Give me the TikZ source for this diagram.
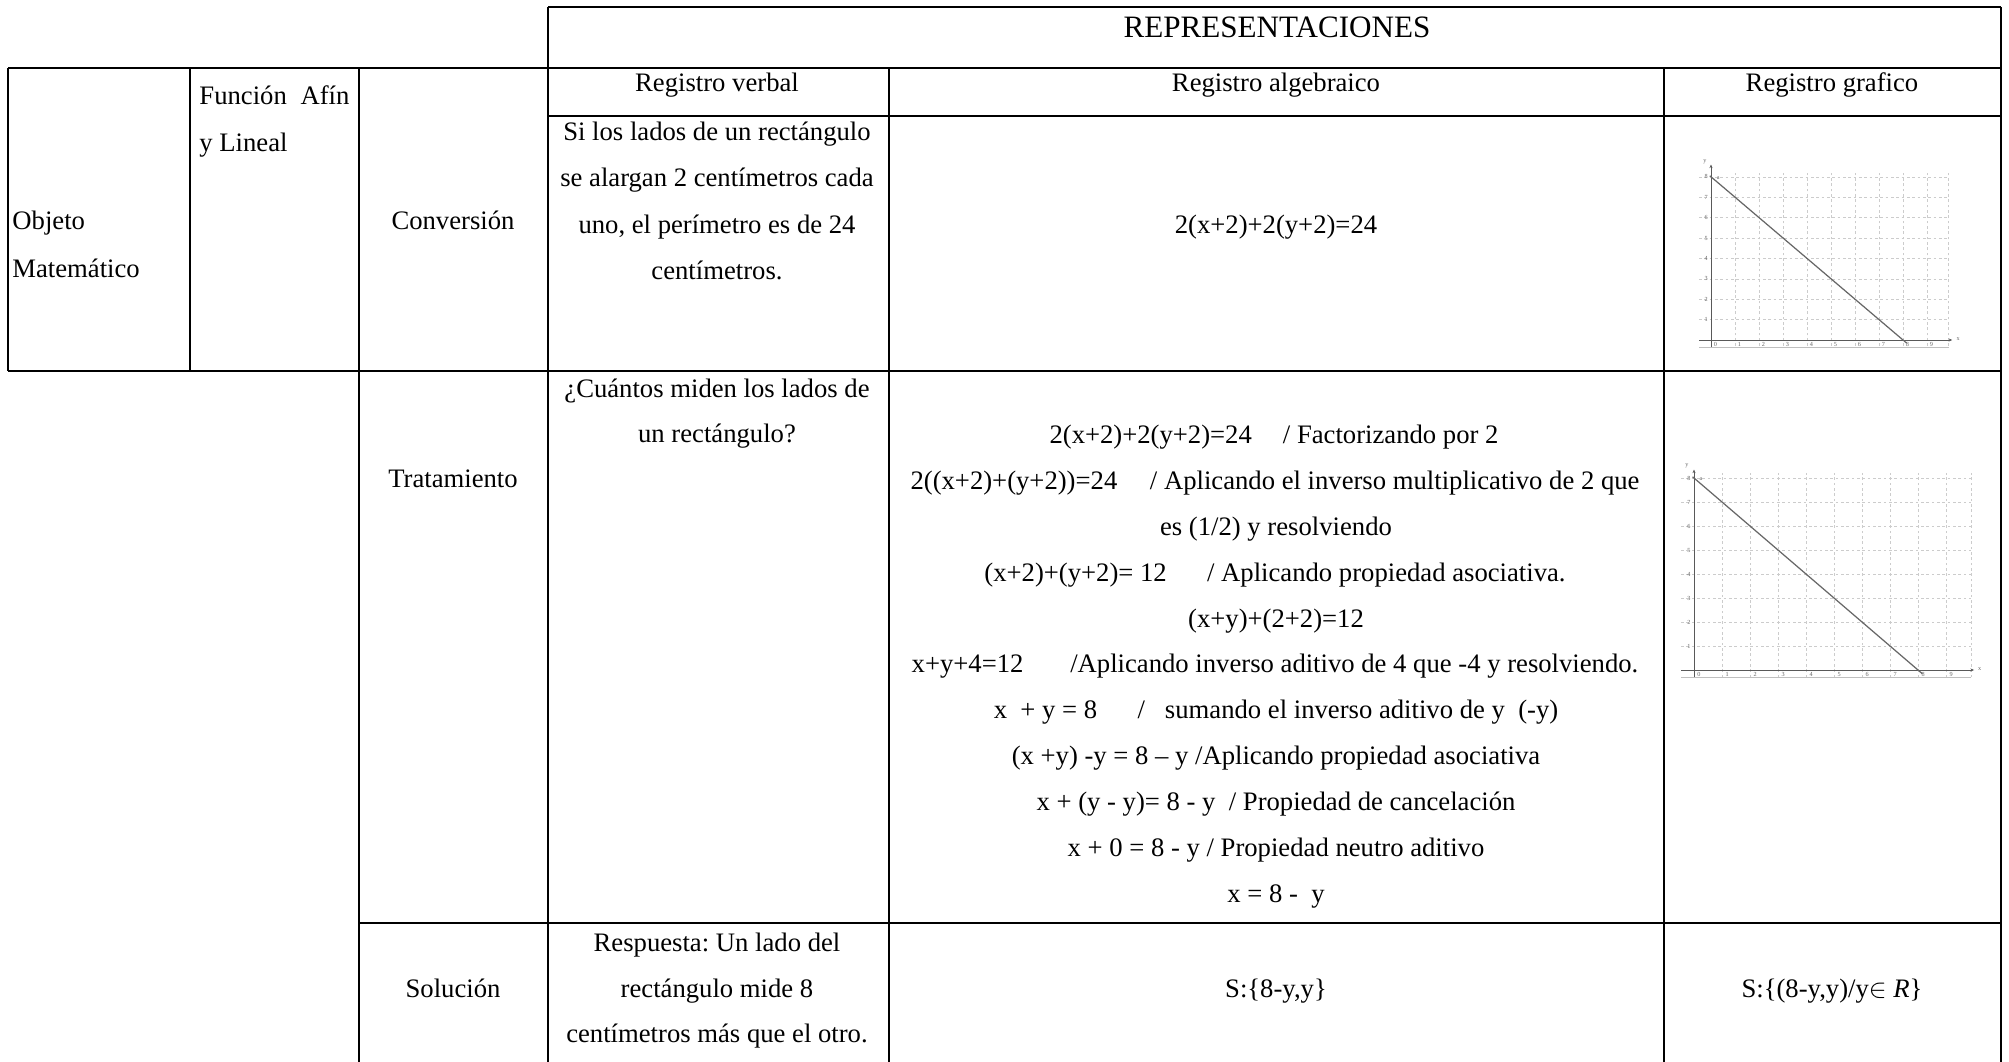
\documentclass[tikz,border=0pt]{standalone}
\usepackage{fontspec}
\setmainfont{Liberation Serif}
\usetikzlibrary{arrows.meta}
\frenchspacing
\begin{document}
\begin{tikzpicture}[x=0.45pt,y=-0.45pt,
  rule/.style={line width=1.15pt},
  txt/.style={font=\fontsize{12}{14}\selectfont\frenchspacing, inner sep=0pt, anchor=base},
  txtl/.style={txt, anchor=base west},
  gridl/.style={gray!40, dash pattern=on 1.2pt off 1.2pt, line width=0.25pt},
  axisl/.style={gray!70!black, line width=0.45pt},
  fline/.style={black!60, line width=0.55pt},
  tickl/.style={font=\fontsize{2.8}{3}\selectfont, text=gray!80!black, inner sep=0.2pt}]
\useasboundingbox (0,0) rectangle (2009,1062);
\fill[white] (0,0) rectangle (2009,1062);

% ---- table rules ----
\draw[rule] (548,7) -- (2001,7);
\draw[rule] (8,68) -- (2001,68);
\draw[rule] (548,116) -- (2001,116);
\draw[rule] (8,371) -- (2001,371);
\draw[rule] (359,923) -- (2001,923);
\draw[rule] (8,68) -- (8,371);
\draw[rule] (190,68) -- (190,371);
\draw[rule] (359,68) -- (359,1062);
\draw[rule] (548,7) -- (548,1062);
\draw[rule] (889,68) -- (889,1062);
\draw[rule] (1664,68) -- (1664,1062);
\draw[rule] (2001,7) -- (2001,1062);

% ---- headers ----
\node[txt, font=\fontsize{14}{16}\selectfont] (rep) at (1277,38) {REPRESENTACIONES};
\node[txt] (rv) at (717,92) {Registro verbal};
\node[txt] (ra) at (1276,92) {Registro algebraico};
\node[txt] (rg) at (1832,92) {Registro grafico};

% ---- left column ----
\node[txtl] (fa1) at (199,105) {\makebox[67.5pt]{Función\hfill Afín}};
\node[txtl] (fa2) at (199,152) {y Lineal};
\node[txtl] (ob1) at (12,230) {Objeto};
\node[txtl] (ob2) at (12,277) {Matemático};

% ---- conversion row ----
\node[txt] (conv) at (453,230) {Conversión};
\node[txt] (cv1) at (717,141) {Si los lados de un rectángulo};
\node[txt] (cv2) at (717,187) {se alargan 2 centímetros cada};
\node[txt] (cv3) at (717,233) {uno, el perímetro es de 24};
\node[txt] (cv4) at (717,279) {centímetros.};
\node[txt] (ca) at (1276,233) {2(x+2)+2(y+2)=24};

% ---- tratamiento row ----
\node[txt] (trat) at (453,487) {Tratamiento};
\node[txt] (tv1) at (717,397) {¿Cuántos miden los lados de};
\node[txt] (tv2) at (717,442) {un rectángulo?};
\node[txt] (a1) at (1274,443) {\makebox[202pt]{2(x+2)+2(y+2)=24\hfill/ Factorizando por 2}};
\node[txt] (a2) at (1275,489) {\makebox[328pt]{2((x+2)+(y+2))=24\hfill/ Aplicando el inverso multiplicativo de 2 que}};
\node[txt] (a3) at (1276,535) {es (1/2) y resolviendo};
\node[txt] (a4) at (1275,581) {\makebox[261.5pt]{(x+2)+(y+2)= 12\hfill/ Aplicando propiedad asociativa.}};
\node[txt] (a5) at (1276,627) {(x+y)+(2+2)=12};
\node[txt] (a6) at (1275,672) {\makebox[327pt]{x+y+4=12\hfill/Aplicando inverso aditivo de 4 que -4 y resolviendo.}};
\node[txt] (a7) at (1276,718) {\makebox[254pt]{x\ \ + y = 8\hfill/\hspace{9pt}sumando el inverso aditivo de y\ \ (-y)}};
\node[txt] (a8) at (1276,764) {(x +y) -y = 8 – y /Aplicando propiedad asociativa};
\node[txt] (a9) at (1276,810) {x + (y - y)= 8 - y\ \ / Propiedad de cancelación};
\node[txt] (a10) at (1276,856) {x + 0 = 8 - y / Propiedad neutro aditivo};
\node[txt] (a11) at (1276,902) {x = 8 -\ \ y};

% ---- solucion row ----
\node[txt] (sol) at (453,997) {Solución};
\node[txt] (sv1) at (717,951) {Respuesta: Un lado del};
\node[txt] (sv2) at (717,997) {rectángulo mide 8};
\node[txt] (sv3) at (717,1042) {centímetros más que el otro.};
\node[txt] (sa) at (1276,997) {S:\{8-y,y\}};
\node[txt] (sg) at (1832,997) {S:\{(8-y,y)/y$\in$ \textit{R}\}};

% ---- graph 1 (conversion) ----
\begin{scope}[shift={(1711,340)}, x=10.8pt, y=9.18pt]
  \foreach \i in {1,...,9,9.9} \draw[gridl] (\i,-0.3) -- (\i,8.3);
  \foreach \j in {1,...,8} \draw[gridl] (-0.5,\j) -- (9.9,\j);
  \draw[gray!50, line width=0.25pt] (-0.5,-0.35) -- (9.9,-0.35);
  \draw[axisl, -{Stealth[length=1.6pt,width=1.4pt]}] (-0.5,0) -- (10.05,0);
  \draw[axisl, -{Stealth[length=1.6pt,width=1.4pt]}] (0,-0.35) -- (0,8.6);
  \draw[fline] (-0.05,8.05) -- (8.15,-0.15);
  \foreach \i in {0,...,9} \node[tickl] (ga\i) at (\i+0.18,-0.2) {\i};
  \foreach \j in {1,...,8} \node[tickl] (gb\j) at (-0.2,\j) {\j};
  \node[tickl] (gay) at (-0.25,8.75) {y};
  \node[tickl] (gax) at (10.3,0.05) {x};
  \node[tickl] (gaa) at (0.3,7.95) {a};
\end{scope}

% ---- graph 2 (tratamiento) ----
\begin{scope}[shift={(1694,670)}, x=12.6pt, y=10.8pt]
  \foreach \i in {1,...,9,9.9} \draw[gridl] (\i,-0.3) -- (\i,8.2);
  \foreach \j in {1,...,8} \draw[gridl] (-0.46,\j) -- (9.9,\j);
  \draw[gray!50, line width=0.25pt] (-0.46,-0.3) -- (9.9,-0.3);
  \draw[axisl, -{Stealth[length=1.6pt,width=1.4pt]}] (-0.46,0) -- (10.0,0);
  \draw[axisl, -{Stealth[length=1.6pt,width=1.4pt]}] (0,-0.3) -- (0,8.35);
  \draw[fline] (-0.05,8.05) -- (8.15,-0.15);
  \foreach \i in {0,...,9} \node[tickl] (gc\i) at (\i+0.18,-0.18) {\i};
  \foreach \j in {1,...,8} \node[tickl] (gd\j) at (-0.18,\j) {\j};
  \node[tickl] (gcy) at (-0.25,8.5) {y};
  \node[tickl] (gcx) at (10.2,0.05) {x};
  \node[tickl] (gca) at (0.25,7.95) {a};
\end{scope}
\end{tikzpicture}
\end{document}
